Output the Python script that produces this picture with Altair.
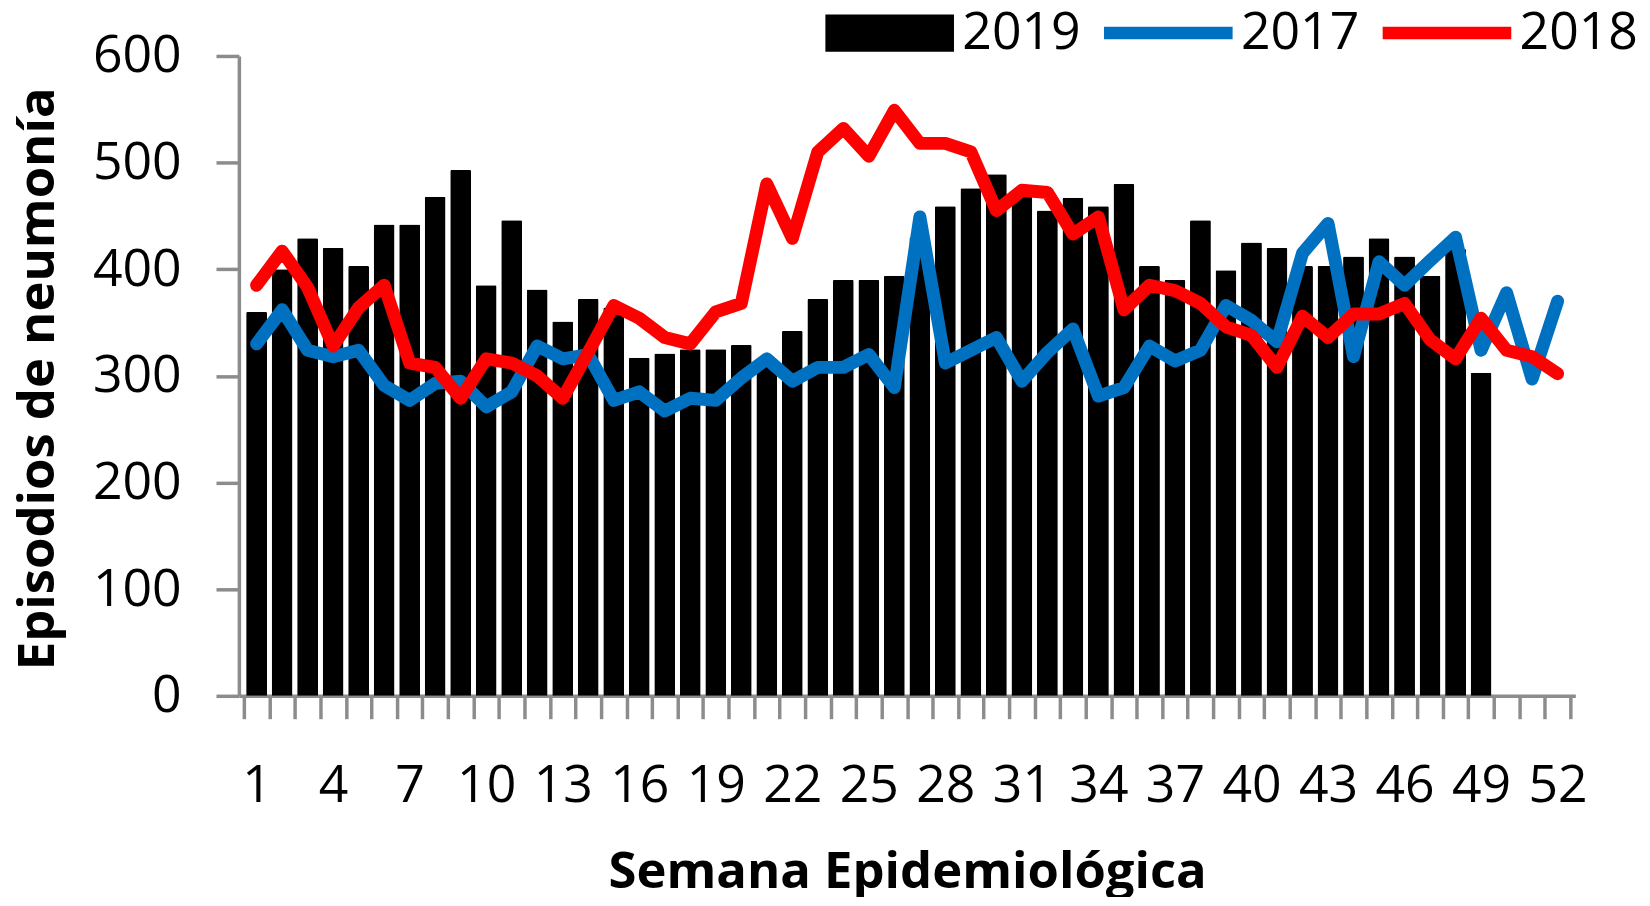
import altair as alt
import pandas as pd

# ---- data ----
weeks = list(range(1, 53))

v2019 = [360, 400, 429, 420, 403, 442, 442, 468, 493, 385,
         446, 381, 351, 372, 364, 317, 321, 325, 325, 329,
         316, 342, 372, 390, 390, 394, 430, 459, 476, 489,
         470, 455, 467, 459, 480, 403, 390, 446, 399, 425,
         420, 403, 403, 412, 429, 412, 394, 419, 303]

v2017 = [330, 362, 324, 318, 324, 291, 277, 293, 295, 271,
         285, 328, 316, 320, 277, 285, 267, 279, 277, 298,
         316, 295, 308, 308, 320, 289, 449, 312, 324, 336,
         295, 322, 344, 281, 289, 328, 314, 324, 366, 352,
         332, 415, 443, 318, 407, 385, 408, 430, 324, 378,
         297, 370]

v2018 = [385, 417, 383, 328, 364, 385, 312, 308, 279, 316,
         312, 300, 279, 322, 366, 354, 336, 330, 360, 368,
         480, 429, 510, 532, 506, 549, 518, 518, 510, 455,
         474, 472, 433, 449, 362, 385, 380, 368, 346, 338,
         308, 356, 336, 358, 358, 368, 334, 316, 354, 324,
         318, 302]

series_names = ["2019", "2017", "2018"]
series_colors = ["#000000", "#0070C0", "#FF0000"]
y_ticks = [0, 100, 200, 300, 400, 500, 600]
x_label_weeks = list(range(1, 53, 3))  # 1, 4, 7, ..., 52

rows = []
for w, v in zip(weeks, v2017):
    rows.append({"serie": "2017", "semana": w, "valor": v})
for w, v in zip(weeks, v2018):
    rows.append({"serie": "2018", "semana": w, "valor": v})
for w, v in zip(weeks, v2019):
    rows.append({"serie": "2019", "semana": w, "valor": v})
df = pd.DataFrame(rows)

# tick marks sit on the week boundaries
x_tick_values = [w - 0.5 for w in weeks] + [weeks[-1] + 0.5]

W, H = 1343, 643
GRAY = "#8c8c8c"
FONT = "Open Sans"

x_scale = alt.Scale(domain=[0.5, 52.5], nice=False, zero=False)

x_ticks_axis = alt.Axis(
    orient="bottom",
    values=x_tick_values,
    labels=False,
    tickSize=23,
    tickWidth=3.5,
    tickColor=GRAY,
    domainColor=GRAY,
    domainWidth=3.5,
    grid=False,
    title=None,
)

x_labels_axis = alt.Axis(
    orient="bottom",
    values=x_label_weeks,
    ticks=False,
    domain=False,
    labelAlign="center",
    labelBaseline="alphabetic",
    labelPadding=106,
    labelFlush=False,
    labelOverlap=False,
    labelFont=FONT,
    labelFontSize=52,
    labelColor="black",
    grid=False,
    title="Semana Epidemiológica",
    titleFont=FONT,
    titleFontSize=51,
    titleFontWeight="bold",
    titleColor="black",
    titleX=W / 2,
    titleY=193,
    titleAlign="center",
    titleBaseline="alphabetic",
)

y_enc = alt.Y(
    "valor:Q",
    scale=alt.Scale(domain=[0, 600], nice=False),
    axis=alt.Axis(
        values=y_ticks,
        tickSize=23,
        tickWidth=3.5,
        tickColor=GRAY,
        domainColor=GRAY,
        domainWidth=3.5,
        labelPadding=35,
        labelFont=FONT,
        labelFontSize=52,
        labelColor="black",
        labelBaseline="middle",
        grid=False,
        title="Episodios de neumonía",
        titleFont=FONT,
        titleFontSize=51,
        titleFontWeight="bold",
        titleColor="black",
        titleAngle=270,
        titleX=-186,
        titleY=324,
        titleAlign="center",
        titleBaseline="alphabetic",
    ),
)

RECT_PATH = "M-1,-0.29H1V0.29H-1Z"
LINE_PATH = "M-1,-0.097H1V0.097H-1Z"

legend = alt.Legend(
    orient="none",
    legendX=589,
    legendY=-88,
    direction="horizontal",
    title=None,
    padding=0,
    labelFont=FONT,
    labelFontSize=52,
    labelColor="black",
    labelOffset=8,
    columnPadding=23,
    symbolSize=16700,
    symbolType={"expr": f"datum.value === '2019' ? '{RECT_PATH}' : '{LINE_PATH}'"},
    symbolStrokeWidth=0,
    symbolOpacity=1,
)

color_enc = alt.Color(
    "serie:N",
    scale=alt.Scale(domain=series_names, range=series_colors),
    legend=legend,
)

bars = (
    alt.Chart(df)
    .transform_filter(alt.datum.serie == "2019")
    .mark_bar(size=21, cornerRadiusTopLeft=1.5, cornerRadiusTopRight=1.5)
    .encode(
        x=alt.X("semana:Q", scale=x_scale, axis=x_ticks_axis),
        y=y_enc,
        color=color_enc,
    )
)

lines = (
    alt.Chart(df)
    .transform_filter(alt.datum.serie != "2019")
    .mark_line(strokeWidth=13, strokeCap="round", strokeJoin="round")
    .encode(
        x=alt.X("semana:Q", scale=x_scale, axis=x_labels_axis),
        y=y_enc,
        color=color_enc,
    )
)

chart = (
    alt.layer(bars, lines)
    .resolve_axis(x="independent")
    .properties(
        width=W,
        height=H,
        autosize=alt.AutoSizeParams(type="none"),
        padding={"left": 232, "top": 46, "right": 67, "bottom": 200},
        background="white",
    )
    .configure_view(stroke=None)
)

chart.save("out.html", embed_options={"renderer": "svg", "actions": False})
